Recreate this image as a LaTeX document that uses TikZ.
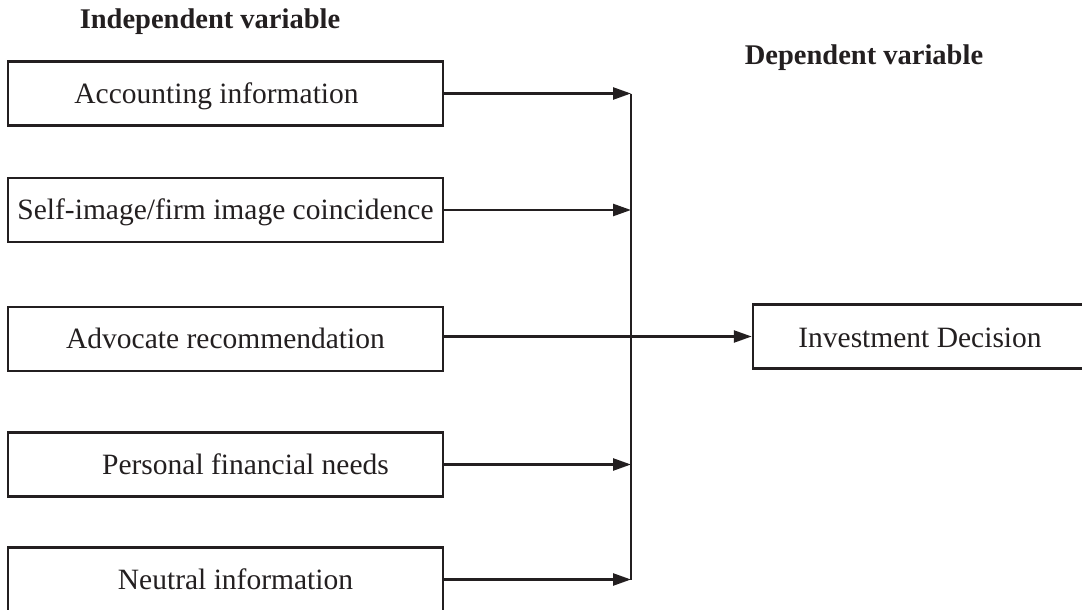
\documentclass[tikz,border=0pt]{standalone}
\usepackage{fontspec}
\setmainfont{Liberation Serif}
\usetikzlibrary{arrows.meta}
\definecolor{ink}{HTML}{231F20}
\tikzset{
  box/.style={draw=ink, line width=2.5pt, minimum width=435pt, minimum height=64pt, inner sep=0pt,
    text height=19.5pt, text depth=0pt,
    font=\fontsize{29.5}{33}\selectfont, text=ink},
  hdr/.style={font=\fontsize{28.5}{32}\selectfont\bfseries, text=ink, inner sep=0pt,
    text height=19pt, text depth=0pt},
  arr/.style={draw=ink, line width=2.5pt, -{Triangle[length=18pt,width=12pt]}},
  ln/.style={draw=ink, line width=2.5pt},
}
\begin{document}
\begin{tikzpicture}[x=1pt,y=-1pt]
\useasboundingbox (0,0) rectangle (1082,610);
\node[hdr] (h1) at (210,19) {Independent variable};
\node[hdr] (h2) at (864,55) {Dependent variable};
\node[box] (a1) at (225.5,93.5) {\hspace*{-18pt}Accounting information};
\node[box] (a2) at (225.5,210) {Self-image/firm image coincidence};
\node[box] (a3) at (225.5,339) {Advocate recommendation};
\node[box] (a4) at (225.5,464.5) {\hspace*{40pt}Personal financial needs};
\node[box] (a5) at (225.5,579.5) {\hspace*{20pt}Neutral information};
\node[box, minimum width=340pt, text height=22pt] (inv) at (923,336.5) {\hspace*{-6pt}Investment Decision};
\coordinate (bus) at (631,0);
\draw[arr] (a1.east) -- (a1.east -| bus);
\draw[arr] (a2.east) -- (a2.east -| bus);
\draw[arr] (a4.east) -- (a4.east -| bus);
\draw[arr] (a5.east) -- (a5.east -| bus);
\draw[ln] (a1.east -| bus) -- (a5.east -| bus);
\draw[arr] (a3.east |- inv.west) -- (inv.west);
\end{tikzpicture}
\end{document}
